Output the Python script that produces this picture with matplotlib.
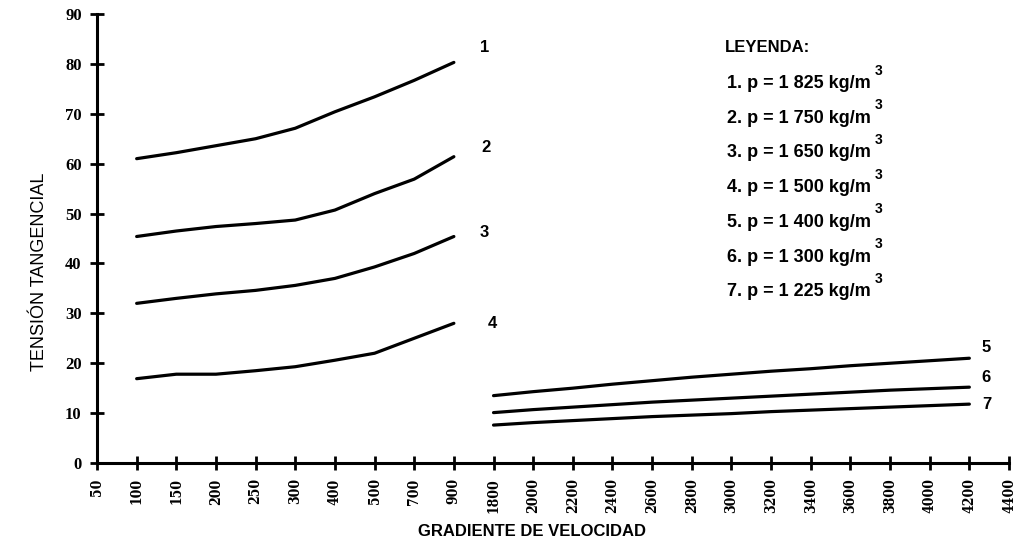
#!/usr/bin/env python3

import matplotlib
matplotlib.use("Agg")
import matplotlib.pyplot as plt
import numpy as np

# x axis is categorical (non-uniform gradient values)
x_labels = ["50", "100", "150", "200", "250", "300", "400", "500", "700", "900",
            "1800", "2000", "2200", "2400", "2600", "2800", "3000", "3200",
            "3400", "3600", "3800", "4000", "4200", "4400"]

# curves 1-4: gradient 100 .. 900
low_x = ["100", "150", "200", "250", "300", "400", "500", "700", "900"]
curve1 = [61.0, 62.2, 63.6, 65.0, 67.1, 70.4, 73.4, 76.7, 80.3]
curve2 = [45.4, 46.5, 47.4, 48.0, 48.7, 50.7, 54.0, 56.9, 61.4]
curve3 = [32.0, 33.0, 33.9, 34.6, 35.6, 37.0, 39.3, 42.0, 45.4]
curve4 = [16.9, 17.8, 17.8, 18.5, 19.3, 20.6, 22.0, 25.0, 28.0]

# curves 5-7: gradient 1800 .. 4200
high_x = ["1800", "2000", "2200", "2400", "2600", "2800", "3000", "3200",
          "3400", "3600", "3800", "4000", "4200"]
curve5 = [13.5, 14.3, 15.0, 15.8, 16.5, 17.2, 17.8, 18.4, 18.9, 19.5, 20.0, 20.5, 21.0]
curve6 = [10.1, 10.7, 11.2, 11.7, 12.2, 12.6, 13.0, 13.4, 13.8, 14.2, 14.6, 14.9, 15.2]
curve7 = [7.6, 8.1, 8.5, 8.9, 9.3, 9.6, 9.9, 10.3, 10.6, 10.9, 11.2, 11.5, 11.8]

legend_lines = ["1. p = 1 825 kg/m", "2. p = 1 750 kg/m", "3. p = 1 650 kg/m",
                "4. p = 1 500 kg/m", "5. p = 1 400 kg/m", "6. p = 1 300 kg/m",
                "7. p = 1 225 kg/m"]

pos = {lab: i for i, lab in enumerate(x_labels)}

W, H = 1024, 547
fig = plt.figure(figsize=(W / 100, H / 100), dpi=100)
ax = fig.add_axes([97 / W, (H - 463) / H, (1009 - 97) / W, (463 - 14) / H])

lw = 2.3
for ys in (curve1, curve2, curve3, curve4):
    ax.plot([pos[l] for l in low_x], ys, color="black", lw=lw,
            solid_capstyle="round", solid_joinstyle="round")
for ys in (curve5, curve6, curve7):
    ax.plot([pos[l] for l in high_x], ys, color="black", lw=lw,
            solid_capstyle="round", solid_joinstyle="round")

ax.set_xlim(0, len(x_labels) - 1)
ax.set_ylim(0, 90)
ax.set_xticks(range(len(x_labels)))
ax.set_xticklabels(x_labels, rotation=90)
ax.set_yticks(np.arange(0, 91, 10))

for side in ("top", "right"):
    ax.spines[side].set_visible(False)
for side in ("left", "bottom"):
    ax.spines[side].set_linewidth(2.2)
ax.tick_params(direction="inout", length=10, width=2, pad=6)
for lab in ax.get_xticklabels():
    lab.set_fontfamily("DejaVu Serif")
    lab.set_fontstretch("condensed")
    lab.set_fontweight("bold")
    lab.set_fontsize(10)
for lab in ax.get_yticklabels():
    lab.set_fontfamily("Liberation Serif")
    lab.set_fontweight("bold")
    lab.set_fontsize(12)

sans = ["Liberation Sans", "DejaVu Sans"]
ax.set_ylabel("TENSIÓN TANGENCIAL", family=sans, fontsize=13, va="center")
ax.yaxis.set_label_coords(-0.0625, 0.425)
ax.set_xlabel("GRADIENTE DE VELOCIDAD", family=sans, fontsize=12,
              fontweight="bold", va="center")
ax.xaxis.set_label_coords(0.4775, -0.153)

# curve numbers
def px(x, y):
    return (x - 97) / 39.65, (463 - y) / 4.99

for num, (x, y) in zip("1234567", [(485, 47), (486, 147), (484, 232), (492, 323),
                                    (986, 347), (986, 377), (987, 404)]):
    ax.text(*px(x, y), num, family=sans, fontsize=12, fontweight="bold",
            ha="center", va="center")

# legend block
ax.text(*px(725, 47), "LEYENDA:", family=sans, fontsize=12, fontweight="bold",
        ha="left", va="center")
for i, line in enumerate(legend_lines):
    yc = 83.5 + i * 34.7
    ax.text(*px(727, yc), line, family=sans, fontsize=13, fontweight="bold",
            ha="left", va="center")
    ax.text(*px(879, yc - 13), "3", family=sans, fontsize=10, fontweight="bold",
            ha="center", va="center")

fig.savefig("out.png", dpi=100)
